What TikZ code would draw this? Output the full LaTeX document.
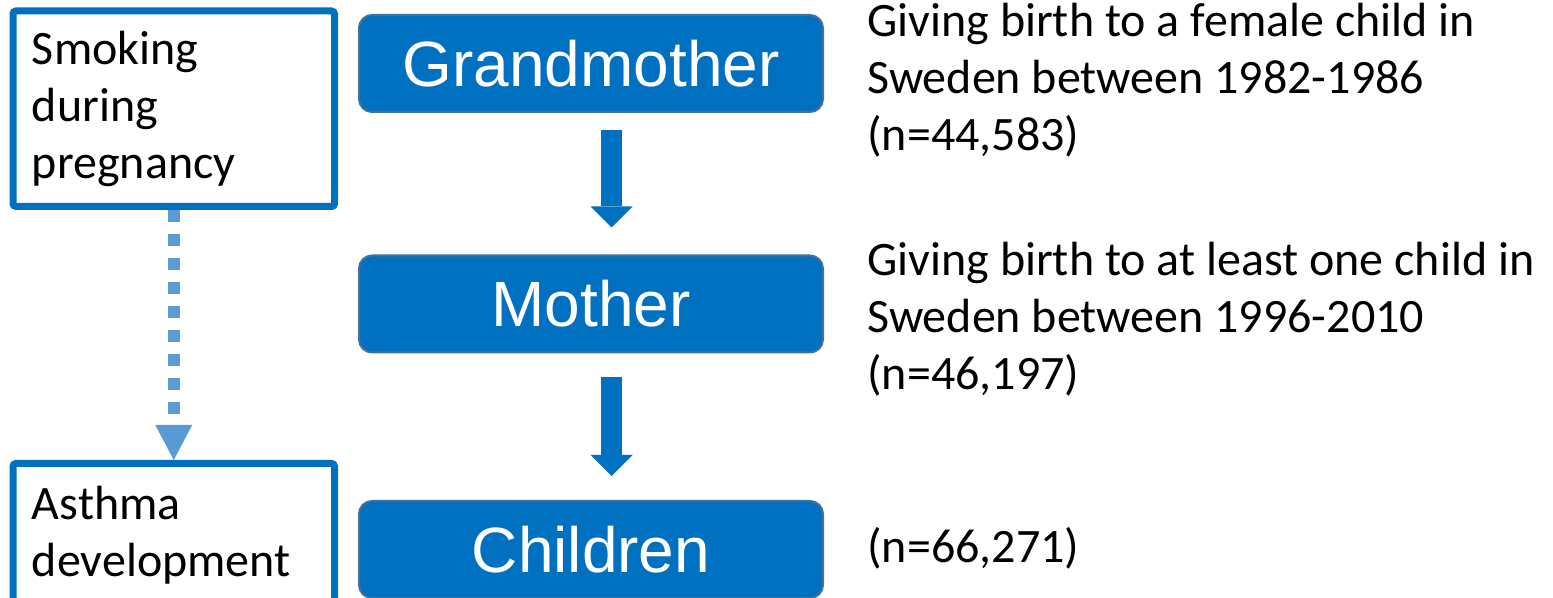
\documentclass[tikz,border=0pt]{standalone}
\usepackage{fontspec}
\setmainfont{Carlito}
\newfontfamily\boxfont{Liberation Sans}
\usetikzlibrary{arrows.meta}
\definecolor{genblue}{HTML}{0070C0}
\definecolor{genedge}{HTML}{41719C}
\definecolor{dotblue}{HTML}{5B9BD5}
\tikzset{
  genbox/.style={draw=genedge,line width=1pt,fill=genblue,rounded corners=6.5pt,
    minimum width=232pt,minimum height=48.5pt,inner sep=0pt,text=white,
    font=\boxfont\fontsize{32}{38}\selectfont},
  riskbox/.style={draw=genblue,line width=3.5pt,rounded corners=1.5pt,align=left,
    text width=141.75pt,inner xsep=9.5pt,inner ysep=0pt},
  infotext/.style={anchor=base west,align=left,inner sep=0pt},
  genarrow/.style={draw=genblue,line width=10.5pt,
    -{Triangle[width=21pt,length=10.5pt,line width=0pt]}},
  riskarrow/.style={draw=dotblue,line width=6pt,dash pattern=on 6pt off 6pt,
    -{Triangle[width=18.5pt,length=17.5pt,line width=0pt]}}
}
\begin{document}
\begin{tikzpicture}[x=0.5pt,y=-0.5pt,font=\fontsize{24}{28.5}\selectfont]
  \useasboundingbox (0,0) rectangle (1553,598);
  \foreach \nm/\py/\lbl in {gm/63.5/Grandmother, mo/304/Mother, ch/549.5/Children}
  {
    \node[genbox] (\nm) at (591,\py) {\lbl};
  }
  \node[riskbox,minimum height=97.75pt] (smk) at (173.75,108.75) {Smoking\\during\\pregnancy};
  \node[riskbox,minimum height=71.5pt] (ast) at (173.75,535) {Asthma\\development};
  \node[infotext] (gmtxt) at (867,150.5) {Giving birth to a female child in\\Sweden between 1982-1986\\(n=44,583)};
  \node[infotext] (motxt) at (867,389.5) {Giving birth to at least one child in\\Sweden between 1996-2010\\(n=46,197)};
  \node[infotext] (chtxt) at (867,562) {(n=66,271)};
  \draw[genarrow,shorten <=8.5pt,shorten >=13.5pt] ([xshift=10.25pt]gm.south) -- ([xshift=10.25pt]mo.north);
  \draw[genarrow,shorten <=12pt,shorten >=12pt] ([xshift=10.25pt]mo.south) -- ([xshift=10.25pt]ch.north);
  \draw[riskarrow] (smk.south) -- (ast.north);
\end{tikzpicture}
\end{document}
